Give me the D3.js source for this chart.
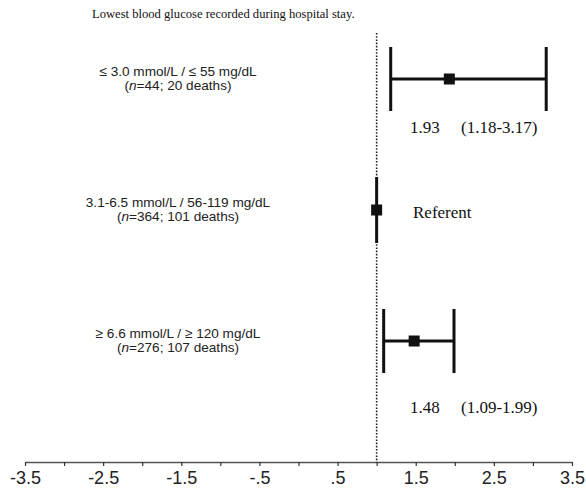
<!DOCTYPE html>
<html>
<head>
<meta charset="utf-8">
<script src="https://cdn.jsdelivr.net/npm/d3@7"></script>
<style>
  body { margin: 0; background: #fff; }
  svg { display: block; }
</style>
</head>
<body>
<svg width="586" height="488"></svg>
<script>
// data
var groups = ["low", "mid", "high"];
var labelLine1 = ["\u2264 3.0 mmol/L / \u2264 55 mg/dL", "3.1-6.5 mmol/L / 56-119 mg/dL", "\u2265 6.6 mmol/L / \u2265 120 mg/dL"];
var labelN = ["44", "364", "276"];
var labelDeaths = ["20 deaths", "101 deaths", "107 deaths"];
var estimate = [1.93, 1.0, 1.48];
var ciLow = [1.18, null, 1.09];
var ciHigh = [3.17, null, 1.99];
var estText = ["1.93", "Referent", "1.48"];
var ciText = ["(1.18-3.17)", "", "(1.09-1.99)"];
var tickVals = [-3.5, -3, -2.5, -2, -1.5, -1, -0.5, 0, 0.5, 1, 1.5, 2, 2.5, 3, 3.5];
var refLine = 1.0;
var title = "Lowest blood glucose recorded during hospital stay.";

var svg = d3.select("svg");
var serif = "'Liberation Serif', 'Times New Roman', serif";
var sans = "'Liberation Sans', Arial, sans-serif";

var x = d3.scaleLinear().domain([-3.5, 3.5]).range([25, 572]);
var y = d3.scalePoint().domain(groups).range([79, 341]);
var axisY = 462;
var labelDy = [54, 8, 72];   // value label offsets below each row

svg.append("text")
    .attr("x", 92).attr("y", 18)
    .attr("font-family", serif).attr("font-size", 12.6)
    .attr("fill", "#111")
    .text(title);

// reference line
svg.append("line")
    .attr("x1", x(refLine)).attr("x2", x(refLine))
    .attr("y1", 33).attr("y2", axisY)
    .attr("stroke", "#222").attr("stroke-width", 1.6)
    .attr("stroke-dasharray", "1.6,1.6");

// axis
var axis = d3.axisBottom(x)
    .tickValues(tickVals)
    .tickSize(4).tickSizeOuter(0).tickPadding(5)
    .tickFormat(function(d) {
	if (Math.abs(d * 2) % 2 !== 1) return "";
	return String(d).replace(/^(-?)0\./, "$1.");
    });
var ax = svg.append("g")
    .attr("transform", "translate(0," + axisY + ")")
    .call(axis);
ax.select(".domain").attr("stroke", "#555").attr("stroke-width", 1.3);
ax.selectAll(".tick line").attr("stroke", "#333").attr("stroke-width", 1.2);
ax.selectAll(".tick text")
    .attr("font-family", sans).attr("font-size", 18)
    .attr("fill", "#222");

var rows = groups.map(function(g, i) {
    return { g: g, i: i, est: estimate[i], lo: ciLow[i], hi: ciHigh[i] };
});

var row = svg.selectAll("g.row").data(rows).enter()
    .append("g").attr("class", "row");

// left labels
row.append("text")
    .attr("x", 178).attr("y", function(d) { return y(d.g) - 3; })
    .attr("text-anchor", "middle")
    .attr("font-family", sans).attr("font-size", 13.6).attr("fill", "#222")
    .text(function(d) { return labelLine1[d.i]; });

var l2 = row.append("text")
    .attr("x", 178).attr("y", function(d) { return y(d.g) + 11; })
    .attr("text-anchor", "middle")
    .attr("font-family", sans).attr("font-size", 13.6).attr("fill", "#222");
l2.append("tspan").text("(");
l2.append("tspan").attr("font-style", "italic").text("n");
l2.append("tspan").text(function(d) { return "=" + labelN[d.i] + "; " + labelDeaths[d.i] + ")"; });

// CI bars
var ci = row.filter(function(d) { return d.lo != null; });
ci.append("line")
    .attr("x1", function(d) { return x(d.lo); })
    .attr("x2", function(d) { return x(d.hi); })
    .attr("y1", function(d) { return y(d.g); })
    .attr("y2", function(d) { return y(d.g); })
    .attr("stroke", "#111").attr("stroke-width", 3);
["lo", "hi"].forEach(function(k) {
    ci.append("line")
	.attr("x1", function(d) { return x(d[k]); })
	.attr("x2", function(d) { return x(d[k]); })
	.attr("y1", function(d) { return y(d.g) - 32; })
	.attr("y2", function(d) { return y(d.g) + 32; })
	.attr("stroke", "#111").attr("stroke-width", 3);
});

// referent: vertical bar at 1.0
row.filter(function(d) { return d.lo == null; })
    .append("line")
    .attr("x1", function(d) { return x(d.est); })
    .attr("x2", function(d) { return x(d.est); })
    .attr("y1", function(d) { return y(d.g) - 33; })
    .attr("y2", function(d) { return y(d.g) + 33; })
    .attr("stroke", "#111").attr("stroke-width", 3);

// point estimate squares
row.append("rect")
    .attr("x", function(d) { return x(d.est) - 5.5; })
    .attr("y", function(d) { return y(d.g) - 5.5; })
    .attr("width", 11).attr("height", 11)
    .attr("fill", "#111");

// value labels
row.append("text")
    .attr("x", function(d) { return d.lo == null ? 413 : 410; })
    .attr("y", function(d) { return y(d.g) + labelDy[d.i]; })
    .attr("font-family", serif).attr("font-size", 17).attr("fill", "#111")
    .text(function(d) { return estText[d.i]; });
row.append("text")
    .attr("x", 461)
    .attr("y", function(d) { return y(d.g) + labelDy[d.i]; })
    .attr("font-family", serif).attr("font-size", 17).attr("fill", "#111")
    .text(function(d) { return ciText[d.i]; });
</script>
</body>
</html>
